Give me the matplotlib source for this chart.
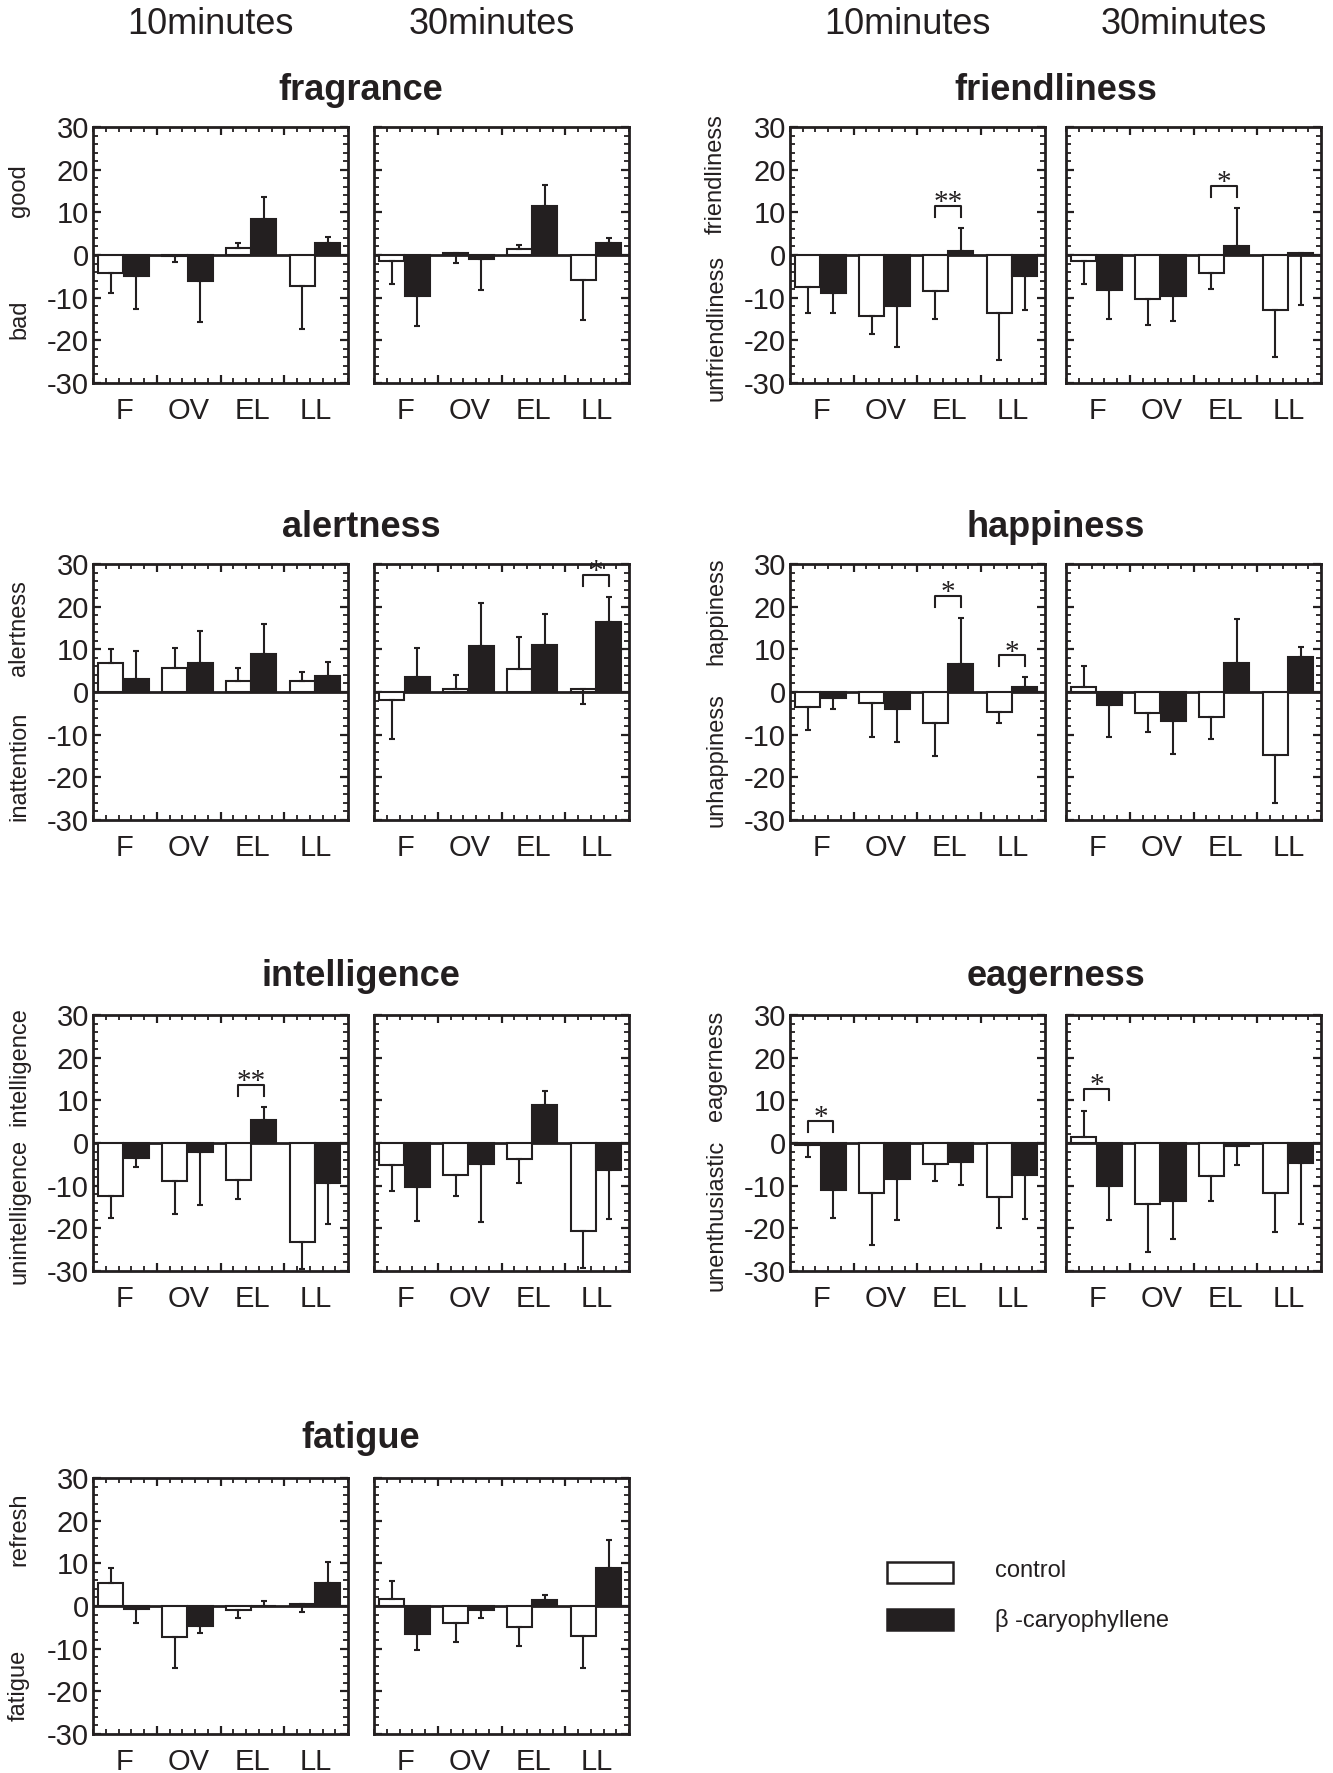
import numpy as np
import matplotlib
matplotlib.use('Agg')
import matplotlib.pyplot as plt
from matplotlib.patches import Rectangle
import matplotlib.transforms as mtransforms

plt.rcParams['font.family'] = ['Liberation Sans', 'DejaVu Sans']
plt.rcParams['axes.unicode_minus'] = False

groups = ['F', 'OV', 'EL', 'LL']
times = ['10minutes', '30minutes']

# mean score, rows = [10 min, 30 min]; *_err = signed error bar length (end - mean)
fragrance_ctrl = [[-4.2, -0.2, 1.7, -7.3], [-1.3, 0.5, 1.5, -5.9]]
fragrance_ctrl_err = [[-4.7, -1.5, 1.2, -10.1], [-5.6, -2.3, 0.9, -9.3]]
fragrance_beta = [[-5.0, -6.1, 8.4, 2.9], [-9.7, -0.9, 11.4, 2.9]]
fragrance_beta_err = [[-7.6, -9.5, 5.1, 1.4], [-6.9, -7.2, 4.9, 1.2]]

friendliness_ctrl = [[-7.5, -14.3, -8.5, -13.5], [-1.3, -10.4, -4.3, -12.9]]
friendliness_ctrl_err = [[-6.1, -4.1, -6.4, -11.0], [-5.4, -6.1, -3.6, -11.1]]
friendliness_beta = [[-8.9, -12.0, 0.9, -4.9], [-8.3, -9.5, 2.0, 0.4]]
friendliness_beta_err = [[-4.7, -9.6, 5.4, -7.9], [-6.8, -5.9, 9.0, -12.2]]

alertness_ctrl = [[6.8, 5.6, 2.6, 2.6], [-1.9, 0.6, 5.4, 0.6]]
alertness_ctrl_err = [[3.2, 4.8, 3.0, 2.1], [-9.0, 3.3, 7.4, -3.3]]
alertness_beta = [[3.1, 6.8, 9.0, 3.8], [3.6, 10.8, 11.0, 16.4]]
alertness_beta_err = [[6.6, 7.6, 6.9, 3.3], [6.7, 10.1, 7.2, 5.8]]

happiness_ctrl = [[-3.5, -2.5, -7.2, -4.6], [1.2, -4.9, -5.9, -14.8]]
happiness_ctrl_err = [[-5.4, -8.0, -7.8, -2.7], [4.9, -4.4, -5.1, -11.2]]
happiness_beta = [[-1.4, -3.9, 6.5, 1.2], [-3.1, -6.7, 6.9, 8.3]]
happiness_beta_err = [[-2.5, -7.9, 10.8, 2.2], [-7.4, -7.9, 10.2, 2.3]]

intelligence_ctrl = [[-12.4, -8.9, -8.6, -23.1], [-5.1, -7.6, -3.8, -20.7]]
intelligence_ctrl_err = [[-5.2, -7.8, -4.6, -6.5], [-6.1, -4.9, -5.6, -8.6]]
intelligence_beta = [[-3.4, -2.2, 5.4, -9.3], [-10.2, -4.9, 8.8, -6.3]]
intelligence_beta_err = [[-2.3, -12.4, 3.0, -9.6], [-8.0, -13.5, 3.3, -11.5]]

eagerness_ctrl = [[-0.4, -11.7, -5.0, -12.7], [1.3, -14.3, -7.8, -11.7]]
eagerness_ctrl_err = [[-2.9, -12.2, -4.0, -7.3], [6.2, -11.3, -5.7, -9.2]]
eagerness_beta = [[-11.1, -8.5, -4.5, -7.6], [-10.1, -13.7, -0.8, -4.7]]
eagerness_beta_err = [[-6.5, -9.5, -5.3, -10.2], [-7.9, -8.8, -4.3, -14.3]]

fatigue_ctrl = [[5.3, -7.2, -1.0, 0.5], [1.7, -3.9, -4.9, -7.1]]
fatigue_ctrl_err = [[3.6, -7.3, -1.9, -1.8], [4.2, -4.5, -4.5, -7.4]]
fatigue_beta = [[-0.8, -4.7, 0.1, 5.5], [-6.5, -1.0, 1.4, 8.8]]
fatigue_beta_err = [[-3.1, -1.7, 1.1, 4.9], [-3.9, -1.7, 1.2, 6.7]]

# axis wording (positive side, negative side)
side_labels = {
    'fragrance': ('good', 'bad'),
    'friendliness': ('friendliness', 'unfriendliness'),
    'alertness': ('alertness', 'inattention'),
    'happiness': ('happiness', 'unhappiness'),
    'intelligence': ('intelligence', 'unintelligence'),
    'eagerness': ('eagerness', 'unenthusiastic'),
    'fatigue': ('refresh', 'fatigue'),
}

# significance: (scale, time index, group index, stars)
signif = [
    ('friendliness', 0, 2, '**'),
    ('friendliness', 1, 2, '*'),
    ('alertness', 1, 3, '*'),
    ('happiness', 0, 2, '*'),
    ('happiness', 0, 3, '*'),
    ('intelligence', 0, 2, '**'),
    ('eagerness', 0, 0, '*'),
    ('eagerness', 1, 0, '*'),
]

scales = {
    'fragrance': (fragrance_ctrl, fragrance_ctrl_err, fragrance_beta, fragrance_beta_err),
    'friendliness': (friendliness_ctrl, friendliness_ctrl_err, friendliness_beta, friendliness_beta_err),
    'alertness': (alertness_ctrl, alertness_ctrl_err, alertness_beta, alertness_beta_err),
    'happiness': (happiness_ctrl, happiness_ctrl_err, happiness_beta, happiness_beta_err),
    'intelligence': (intelligence_ctrl, intelligence_ctrl_err, intelligence_beta, intelligence_beta_err),
    'eagerness': (eagerness_ctrl, eagerness_ctrl_err, eagerness_beta, eagerness_beta_err),
    'fatigue': (fatigue_ctrl, fatigue_ctrl_err, fatigue_beta, fatigue_beta_err),
}

ink = '#231f20'
W, H = 1333, 1773
fig = plt.figure(figsize=(W / 100, H / 100), dpi=100)

# page layout in pixels
col_x = [(93, 374), (790, 1066)]
row_top = [127, 564, 1015, 1478]
pw, ph = 255, 256
place = {'fragrance': (0, 0), 'friendliness': (1, 0), 'alertness': (0, 1),
         'happiness': (1, 1), 'intelligence': (0, 2), 'eagerness': (1, 2),
         'fatigue': (0, 3)}
label_y = {'fragrance': (15, -15), 'friendliness': (19, -17), 'alertness': (15, -17.5),
           'happiness': (19, -16), 'intelligence': (18, -16), 'eagerness': (18, -17),
           'fatigue': (18, -18.5)}
title_y = [91, 528, 977, 1439]

off_c, off_b, bw = 0.28, 0.68, 0.39


def one_sided(err):
    err = np.asarray(err, dtype=float)
    return [np.where(err < 0, -err, 0), np.where(err > 0, err, 0)]


axes = {}
for name, (c, r) in place.items():
    ctrl, ctrl_err, beta, beta_err = scales[name]
    for t in range(2):
        x0 = col_x[c][t]
        ax = fig.add_axes([x0 / W, 1 - (row_top[r] + ph) / H, pw / W, ph / H])
        axes[(name, t)] = ax
        x = np.arange(len(groups))
        ax.axhline(0, color=ink, lw=2, zorder=2)
        ax.bar(x + off_c, ctrl[t], bw, color='white', edgecolor=ink, linewidth=1.5, zorder=3)
        ax.bar(x + off_b, beta[t], bw, color=ink, edgecolor=ink, linewidth=1.5, zorder=3)
        ax.errorbar(x + off_c, ctrl[t], yerr=one_sided(ctrl_err[t]), fmt='none', ecolor=ink,
                    elinewidth=1.5, capsize=2, capthick=1.5, zorder=4)
        ax.errorbar(x + off_b, beta[t], yerr=one_sided(beta_err[t]), fmt='none', ecolor=ink,
                    elinewidth=1.5, capsize=2, capthick=1.5, zorder=4)
        ax.set_xlim(0, 4)
        ax.set_ylim(-30, 30)
        ax.set_xticks([1, 2, 3])
        ax.set_xticks(np.arange(0, 4.01, 0.2), minor=True)
        ax.set_yticks(np.arange(-30, 31, 10))
        ax.set_yticks(np.arange(-30, 31, 2), minor=True)
        ax.tick_params(which='both', direction='in', top=True, right=True,
                       labelbottom=False, colors=ink)
        ax.tick_params(which='major', length=6, width=1.6, labelsize=21, pad=3)
        ax.tick_params(which='minor', length=3.5, width=1.3)
        if t == 1:
            ax.tick_params(labelleft=False)
        for s in ax.spines.values():
            s.set_linewidth(2)
            s.set_color(ink)
        tr = mtransforms.blended_transform_factory(ax.transData, ax.transAxes)
        for i, g in enumerate(groups):
            ax.text(i + 0.5, -0.11, g, transform=tr, ha='center', va='center',
                    fontsize=21, color=ink)
        if t == 0:
            tr2 = mtransforms.blended_transform_factory(ax.transAxes, ax.transData)
            pos, neg = side_labels[name]
            ax.text(-0.29, label_y[name][0], pos, transform=tr2, rotation=90,
                    ha='center', va='center', fontsize=17, color=ink)
            ax.text(-0.29, label_y[name][1], neg, transform=tr2, rotation=90,
                    ha='center', va='center', fontsize=17, color=ink)
    xc = (col_x[c][0] + col_x[c][1] + pw) / 2
    fig.text(xc / W, 1 - title_y[r] / H, name, ha='center', va='center',
             fontsize=26, fontweight='bold', color=ink)

# significance brackets
for name, t, g, stars in signif:
    ax = axes[(name, t)]
    ctrl, ctrl_err, beta, beta_err = scales[name]
    tops = [ctrl[t][g], ctrl[t][g] + ctrl_err[t][g], beta[t][g], beta[t][g] + beta_err[t][g], 0]
    top = max(tops) + 5.2
    leg = top - 2.6
    xa, xb = g + off_c, g + off_b
    ax.plot([xa, xa, xb, xb], [leg, top, top, leg], color=ink, lw=1.5, zorder=5,
            clip_on=False)
    ax.text((xa + xb) / 2, top - 1.0, stars, ha='center', va='baseline', fontsize=21,
            family='Liberation Serif', color=ink, clip_on=False)

# column headers
for (x0, x1) in col_x:
    for t, x in enumerate((x0, x1)):
        fig.text((x + pw / 2 - 10) / W, 1 - 24 / H, times[t], ha='center', va='center',
                 fontsize=26, color=ink)

# legend
fig.patches.append(Rectangle((887 / W, 1 - 1583 / H), 66 / W, 21 / H, transform=fig.transFigure,
                             facecolor='white', edgecolor=ink, linewidth=1.8))
fig.patches.append(Rectangle((887 / W, 1 - 1630 / H), 66 / W, 21 / H, transform=fig.transFigure,
                             facecolor=ink, edgecolor=ink, linewidth=1.8))
fig.text(995 / W, 1 - 1571 / H, 'control', ha='left', va='center', fontsize=17, color=ink)
fig.text(995 / W, 1 - 1620 / H, '\u03b2 -caryophyllene', ha='left', va='center', fontsize=17,
         color=ink)

fig.savefig('out.png', dpi=100)
